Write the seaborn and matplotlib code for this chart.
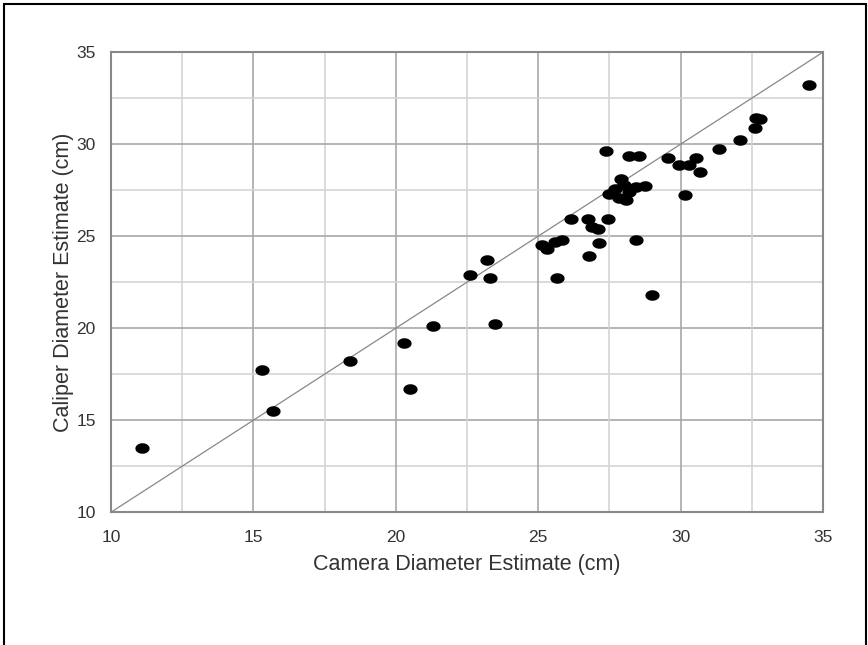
import numpy as np
import pandas as pd
import matplotlib
matplotlib.use("Agg")
import matplotlib.pyplot as plt
import seaborn as sns

camera = [11.1, 15.3, 15.7, 18.4, 20.3, 20.5, 21.3, 22.6, 23.2, 23.3, 23.5,
          25.15, 25.3, 25.6, 25.85, 25.65, 26.15, 26.75, 26.8, 26.9, 27.1,
          27.15, 27.45, 27.4, 27.5, 27.9, 28.0, 27.85, 28.1, 28.45, 28.75,
          28.2, 28.55, 28.45, 29.0, 29.55, 29.95, 30.3, 30.55, 30.7, 30.15,
          31.35, 32.1, 32.6, 32.65, 32.8, 34.5, 27.7, 28.2]
caliper = [13.5, 17.7, 15.5, 18.2, 19.2, 16.7, 20.1, 22.9, 23.7, 22.75, 20.2,
           24.5, 24.3, 24.7, 24.8, 22.75, 25.95, 25.95, 23.9, 25.5, 25.4,
           24.65, 25.95, 29.65, 27.3, 28.1, 27.8, 27.05, 26.95, 27.65, 27.75,
           29.35, 29.35, 24.8, 21.8, 29.25, 28.85, 28.85, 29.25, 28.5, 27.25,
           29.75, 30.25, 30.9, 31.4, 31.35, 33.2, 27.55, 27.4]

df = pd.DataFrame({"camera": camera, "caliper": caliper})

sns.set_style("white")
plt.rcParams["font.family"] = ["Liberation Sans", "DejaVu Sans"]

fig = plt.figure(figsize=(8.68, 6.45), dpi=100)
ax = fig.add_axes([0.128, 0.206, 0.820, 0.713])

# major / minor grid
for v in np.arange(12.5, 35, 2.5):
    c = "#a8a8a8" if v % 5 == 0 else "#d4d4d4"
    ax.axvline(v, color=c, lw=1.2, zorder=0)
    ax.axhline(v, color=c, lw=1.2, zorder=0)

ax.plot([10, 35], [10, 35], color="#888888", lw=0.9, zorder=1)

t = np.linspace(0, 2 * np.pi, 40)
ellipse = np.column_stack([1.35 * np.cos(t), np.sin(t)])
sns.scatterplot(data=df, x="camera", y="caliper", marker=ellipse, s=105,
                color="black", edgecolor="black", linewidth=0, ax=ax, zorder=3)

ax.set_xlim(10, 35)
ax.set_ylim(10, 35)
ax.set_xticks([10, 15, 20, 25, 30, 35])
ax.set_yticks([10, 15, 20, 25, 30, 35])
ax.tick_params(axis="both", direction="out", length=5, width=1, color="#888888",
               labelsize=12.5, labelcolor="#333333")
ax.tick_params(axis="x", pad=8)
ax.tick_params(axis="y", pad=6)
for s in ax.spines.values():
    s.set_color("#888888")
    s.set_linewidth(1.5)
ax.set_xlabel("Camera Diameter Estimate (cm)", fontsize=15.5, color="#333333", labelpad=6)
ax.set_ylabel("Caliper Diameter Estimate (cm)", fontsize=15.5, color="#333333", labelpad=2)

fig.patches.append(plt.Rectangle((0.005, -0.1), 0.993, 1.094, transform=fig.transFigure,
                                 fill=False, edgecolor="black", lw=1.5))

fig.savefig("out.png", dpi=100)
